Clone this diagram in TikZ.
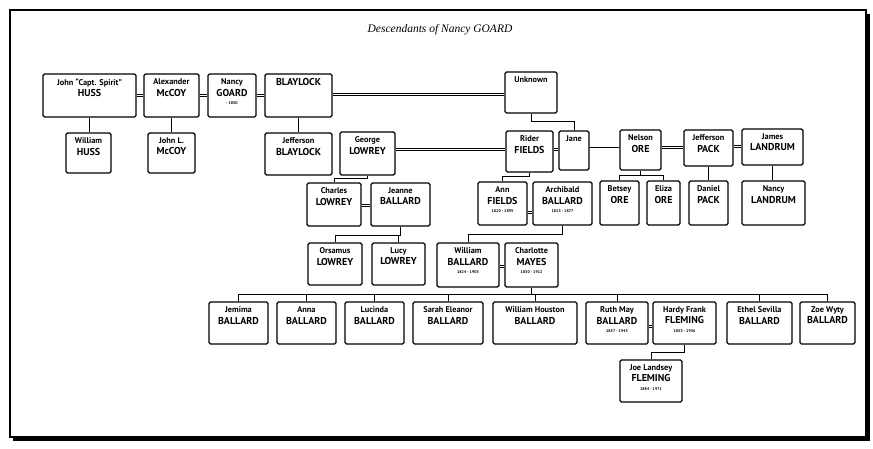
\documentclass[tikz,border=0pt]{standalone}
\usepackage{fontspec}
\setmainfont{PT Sans}
\newfontfamily\titlefont{Liberation Serif}
\usetikzlibrary{fit}
\newcommand{\fnm}[1]{{\fontsize{8.3}{9}\selectfont #1}}
\newcommand{\snm}[1]{{\fontsize{10}{11}\selectfont #1}}
\newcommand{\dts}[1]{{\fontsize{4}{5}\selectfont #1}}
\tikzset{
  pbox/.style={draw, line width=1.1pt, rounded corners=1.5pt, inner sep=0pt},
  ptxt/.style={anchor=north, inner sep=0pt, align=center, font=\bfseries\fontsize{8}{11.5}\selectfont},
  link/.style={line width=1pt},
  spouse/.style={double, line width=1.3pt, double distance=0.4pt},
}
\newcommand{\pers}[6]{%
  \node[pbox, fit={(#2,#3) (#4,#5)}] (#1) {};
  \node[ptxt] (#1-t) at ([yshift=-5pt]#1.north) {#6};}
\begin{document}
\begin{tikzpicture}[x=1pt,y=-1pt]
\useasboundingbox (0,0) rectangle (873,448);
% frame with shadow
\fill (13,14) rectangle (870,441);
\draw[fill=white, line width=1.1pt] (10,10) rectangle (866,437);
\node[font=\titlefont\itshape\fontsize{11.5}{13}\selectfont] (title) at (440,30) {Descendants of Nancy GOARD};
% row 1
\pers{huss}{43}{74}{136}{117}{\fnm{John “Capt. Spirit”}\\\snm{HUSS}}
\pers{mccoy}{144}{74}{199}{117}{\fnm{Alexander}\\\snm{McCOY}}
\pers{goard}{208}{74}{256}{117}{\fnm{Nancy}\\\snm{GOARD}\\[-3pt]\dts{- 1850}}
\pers{blay}{265}{74}{332}{117}{\snm{BLAYLOCK}}
\pers{unk}{505}{72}{557}{113}{\fnm{Unknown}}
% row 2
\pers{whuss}{66}{133}{111}{173}{\fnm{William}\\\snm{HUSS}}
\pers{jlmccoy}{148}{133}{195}{173}{\fnm{John L.}\\\snm{McCOY}}
\pers{jblay}{265}{133}{332}{175}{\fnm{Jefferson}\\\snm{BLAYLOCK}}
\pers{george}{340}{132}{395}{175}{\fnm{George}\\\snm{LOWREY}}
\pers{rider}{506}{131}{553}{172}{\fnm{Rider}\\\snm{FIELDS}}
\pers{jane}{559}{131}{589}{170}{\fnm{Jane}}
\pers{nelson}{620}{130}{661}{170}{\fnm{Nelson}\\\snm{ORE}}
\pers{jpack}{684}{130}{733}{166}{\fnm{Jefferson}\\\snm{PACK}}
\pers{jland}{742}{129}{803}{165}{\fnm{James}\\\snm{LANDRUM}}
% row 3
\pers{charles}{307}{183}{361}{226}{\fnm{Charles}\\\snm{LOWREY}}
\pers{jeanne}{371}{183}{430}{226}{\fnm{Jeanne}\\\snm{BALLARD}}
\pers{ann}{478}{182}{527}{225}{\fnm{Ann}\\\snm{FIELDS}\\[-3pt]\dts{1820 - 1895}}
\pers{archibald}{533}{182}{592}{225}{\fnm{Archibald}\\\snm{BALLARD}\\[-3pt]\dts{1813 - 1877}}
\pers{betsey}{600}{181}{639}{225}{\fnm{Betsey}\\\snm{ORE}}
\pers{eliza}{647}{181}{680}{225}{\fnm{Eliza}\\\snm{ORE}}
\pers{daniel}{689}{181}{728}{225}{\fnm{Daniel}\\\snm{PACK}}
\pers{nancyl}{742}{181}{805}{225}{\fnm{Nancy}\\\snm{LANDRUM}}
% row 4
\pers{orsamus}{308}{243}{362}{285}{\fnm{Orsamus}\\\snm{LOWREY}}
\pers{lucy}{372}{243}{425}{285}{\fnm{Lucy}\\\snm{LOWREY}}
\pers{william}{437}{243}{499}{287}{\fnm{William}\\\snm{BALLARD}\\[-3pt]\dts{1824 - 1903}}
\pers{charlotte}{505}{243}{558}{287}{\fnm{Charlotte}\\\snm{MAYES}\\[-3pt]\dts{1830 - 1912}}
% row 5
\pers{jemima}{209}{302}{268}{344}{\fnm{Jemima}\\\snm{BALLARD}}
\pers{anna}{277}{302}{336}{344}{\fnm{Anna}\\\snm{BALLARD}}
\pers{lucinda}{345}{302}{404}{344}{\fnm{Lucinda}\\\snm{BALLARD}}
\pers{sarah}{413}{302}{483}{344}{\fnm{Sarah Eleanor}\\\snm{BALLARD}}
\pers{whouston}{493}{302}{577}{344}{\fnm{William Houston}\\\snm{BALLARD}}
\pers{ruth}{586}{302}{648}{344}{\fnm{Ruth May}\\\snm{BALLARD}\\[-3pt]\dts{1857 - 1943}}
\pers{hardy}{653}{302}{716}{344}{\fnm{Hardy Frank}\\\snm{FLEMING}\\[-3pt]\dts{1853 - 1936}}
\pers{ethel}{727}{302}{792}{344}{\fnm{Ethel Sevilla}\\\snm{BALLARD}}
\pers{zoe}{800}{302}{855}{344}{\fnm{Zoe Wyty}\\\snm{BALLARD}}
% row 6
\pers{joe}{620}{360}{682}{402}{\fnm{Joe Landsey}\\\snm{FLEMING}\\[-3pt]\dts{1884 - 1971}}
% spouse connectors
\draw[spouse] (huss.east) -- (huss.east -| mccoy.west);
\draw[spouse] (mccoy.east) -- (mccoy.east -| goard.west);
\draw[spouse] (goard.east) -- (goard.east -| blay.west);
\draw[spouse] (blay.east |- 0,94) -- (unk.west |- 0,94);
\draw[spouse] (george.east |- 0,149) -- (rider.west |- 0,149);
\draw[spouse] (rider.east |- 0,149) -- (jane.west |- 0,149);
\draw[link] (jane.east |- 0,147) -- (nelson.west |- 0,147);
\draw[spouse] (nelson.east |- 0,147) -- (jpack.west |- 0,147);
\draw[spouse] (jpack.east |- 0,146) -- (jland.west |- 0,146);
\draw[spouse] (charles.east |- 0,205) -- (jeanne.west |- 0,205);
\draw[spouse] (ann.east |- 0,212) -- (archibald.west |- 0,212);
\draw[spouse] (william.east |- 0,266) -- (charlotte.west |- 0,266);
\draw[spouse] (ruth.east |- 0,326) -- (hardy.west |- 0,326);
% child connectors
\draw[link] (huss.south) -- (huss.south |- whuss.north);
\draw[link] (mccoy.south) -- (mccoy.south |- jlmccoy.north);
\draw[link] (blay.south) -- (blay.south |- jblay.north);
\draw[link] (unk.south) -- (unk.south |- 0,121) -| (jane.north);
\draw[link] (george.south) -- (george.south |- 0,178) -| (charles.north);
\draw[link] (rider.south) -- (rider.south |- 0,176) -| (ann.north);
\draw[link] (nelson.south) -- (nelson.south |- 0,175);
\draw[link] (betsey.north) -- (betsey.north |- 0,175) -| (eliza.north);
\draw[link] (jpack.south) -- (jpack.south |- daniel.north);
\draw[link] (jland.south) -- (jland.south |- nancyl.north);
\draw[link] (jeanne.south) -- (jeanne.south |- 0,235) -| (orsamus.north);
\draw[link] (jeanne.south |- 0,235) -| (lucy.north);
\draw[link] (archibald.south) -- (archibald.south |- 0,234) -| (william.north);
\draw[link] (charlotte.south) -- (charlotte.south |- 0,294);
\draw[link] (jemima.north) -- (jemima.north |- 0,294) -- (zoe.north |- 0,294) -- (zoe.north);
\foreach \c in {anna,lucinda,sarah,whouston,ruth,ethel}
  \draw[link] (\c.north) -- (\c.north |- 0,294);
\draw[link] (hardy.south) -- (hardy.south |- 0,352) -| (joe.north);
\end{tikzpicture}
\end{document}
